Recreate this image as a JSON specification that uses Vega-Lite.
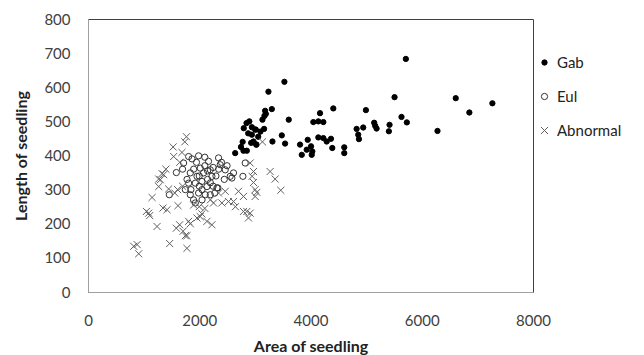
{
  "$schema": "https://vega.github.io/schema/vega-lite/v6.json",
  "autosize": {"type": "none"},
  "padding": {"left": 88, "top": 19, "right": 111, "bottom": 63},
  "width": 445,
  "height": 273,
  "background": "white",
  "config": {
    "font": "Lato",
    "view": {"stroke": "#404040", "strokeWidth": 1},
    "axis": {"grid": false, "ticks": false, "domainColor": "#a0a0a0", "labelColor": "#404040", "labelFontSize": 15, "titleFontSize": 16, "titleFontWeight": "bold", "titleColor": "#222222", "labelFont": "Lato", "titleFont": "Lato"},
    "legend": {"orient": "none", "legendX": 449, "legendY": 36, "rowPadding": 18, "labelFontSize": 15, "labelColor": "#222222", "labelFont": "Lato", "labelOffset": 5, "symbolStrokeWidth": 1}
  },
  "data": {"values": [
    {"a":5714,"l":683,"g":"Gab"},{"a":3531,"l":616,"g":"Gab"},{"a":3244,"l":587,"g":"Gab"},{"a":3305,"l":536,"g":"Gab"},
    {"a":3184,"l":531,"g":"Gab"},{"a":3197,"l":522,"g":"Gab"},{"a":3172,"l":516,"g":"Gab"},{"a":3136,"l":505,"g":"Gab"},
    {"a":3609,"l":505,"g":"Gab"},{"a":4410,"l":538,"g":"Gab"},{"a":4171,"l":524,"g":"Gab"},{"a":4051,"l":498,"g":"Gab"},
    {"a":4141,"l":500,"g":"Gab"},{"a":4231,"l":498,"g":"Gab"},{"a":4996,"l":533,"g":"Gab"},{"a":5511,"l":571,"g":"Gab"},
    {"a":6611,"l":568,"g":"Gab"},{"a":7270,"l":553,"g":"Gab"},{"a":6856,"l":526,"g":"Gab"},{"a":5636,"l":513,"g":"Gab"},
    {"a":5732,"l":497,"g":"Gab"},{"a":6283,"l":472,"g":"Gab"},{"a":5145,"l":496,"g":"Gab"},{"a":5163,"l":487,"g":"Gab"},
    {"a":5188,"l":479,"g":"Gab"},{"a":5421,"l":490,"g":"Gab"},{"a":5409,"l":471,"g":"Gab"},{"a":4829,"l":478,"g":"Gab"},
    {"a":4948,"l":482,"g":"Gab"},{"a":4858,"l":461,"g":"Gab"},{"a":4871,"l":448,"g":"Gab"},{"a":4141,"l":453,"g":"Gab"},
    {"a":4231,"l":451,"g":"Gab"},{"a":4291,"l":441,"g":"Gab"},{"a":4368,"l":449,"g":"Gab"},{"a":4392,"l":422,"g":"Gab"},
    {"a":3950,"l":446,"g":"Gab"},{"a":3812,"l":432,"g":"Gab"},{"a":4010,"l":427,"g":"Gab"},{"a":3932,"l":417,"g":"Gab"},
    {"a":4033,"l":412,"g":"Gab"},{"a":3843,"l":402,"g":"Gab"},{"a":4022,"l":402,"g":"Gab"},{"a":4607,"l":424,"g":"Gab"},
    {"a":4607,"l":407,"g":"Gab"},{"a":3484,"l":459,"g":"Gab"},{"a":3316,"l":441,"g":"Gab"},{"a":3543,"l":435,"g":"Gab"},
    {"a":3017,"l":476,"g":"Gab"},{"a":3166,"l":478,"g":"Gab"},{"a":3029,"l":432,"g":"Gab"},{"a":2946,"l":483,"g":"Gab"},
    {"a":3005,"l":476,"g":"Gab"},{"a":2946,"l":461,"g":"Gab"},{"a":2933,"l":437,"g":"Gab"},{"a":3023,"l":432,"g":"Gab"},
    {"a":2975,"l":441,"g":"Gab"},{"a":2646,"l":407,"g":"Gab"},{"a":2795,"l":414,"g":"Gab"},{"a":2855,"l":414,"g":"Gab"},
    {"a":2800,"l":480,"g":"Gab"},{"a":2850,"l":495,"g":"Gab"},{"a":2900,"l":500,"g":"Gab"},{"a":2780,"l":440,"g":"Gab"},
    {"a":2880,"l":465,"g":"Gab"},{"a":3100,"l":470,"g":"Gab"},{"a":2750,"l":425,"g":"Gab"},{"a":3060,"l":455,"g":"Gab"},
    {"a":1988,"l":399,"g":"Eul"},{"a":1719,"l":378,"g":"Eul"},{"a":1588,"l":350,"g":"Eul"},{"a":1839,"l":349,"g":"Eul"},
    {"a":2018,"l":363,"g":"Eul"},{"a":2167,"l":383,"g":"Eul"},{"a":2347,"l":393,"g":"Eul"},{"a":2377,"l":373,"g":"Eul"},
    {"a":2467,"l":358,"g":"Eul"},{"a":2616,"l":349,"g":"Eul"},{"a":2826,"l":378,"g":"Eul"},{"a":1809,"l":319,"g":"Eul"},
    {"a":1929,"l":319,"g":"Eul"},{"a":2048,"l":324,"g":"Eul"},{"a":2228,"l":339,"g":"Eul"},{"a":2318,"l":305,"g":"Eul"},
    {"a":1988,"l":290,"g":"Eul"},{"a":2108,"l":285,"g":"Eul"},{"a":2198,"l":285,"g":"Eul"},{"a":1839,"l":285,"g":"Eul"},
    {"a":1749,"l":300,"g":"Eul"},{"a":2138,"l":309,"g":"Eul"},{"a":1959,"l":339,"g":"Eul"},{"a":2078,"l":349,"g":"Eul"},
    {"a":2198,"l":358,"g":"Eul"},{"a":2557,"l":339,"g":"Eul"},{"a":1898,"l":270,"g":"Eul"},{"a":1462,"l":285,"g":"Eul"},
    {"a":2785,"l":339,"g":"Eul"},{"a":2336,"l":305,"g":"Eul"},{"a":1929,"l":261,"g":"Eul"},{"a":2587,"l":334,"g":"Eul"},
    {"a":1809,"l":397,"g":"Eul"},{"a":2100,"l":370,"g":"Eul"},{"a":2250,"l":365,"g":"Eul"},{"a":2050,"l":300,"g":"Eul"},
    {"a":1900,"l":360,"g":"Eul"},{"a":2300,"l":340,"g":"Eul"},{"a":2150,"l":330,"g":"Eul"},{"a":2000,"l":310,"g":"Eul"},
    {"a":2400,"l":380,"g":"Eul"},{"a":1780,"l":330,"g":"Eul"},{"a":2250,"l":310,"g":"Eul"},{"a":2100,"l":395,"g":"Eul"},
    {"a":1850,"l":300,"g":"Eul"},{"a":1950,"l":380,"g":"Eul"},{"a":2200,"l":320,"g":"Eul"},{"a":2050,"l":270,"g":"Eul"},
    {"a":2350,"l":360,"g":"Eul"},{"a":2500,"l":370,"g":"Eul"},{"a":1700,"l":360,"g":"Eul"},{"a":2000,"l":340,"g":"Eul"},
    {"a":2150,"l":355,"g":"Eul"},{"a":2280,"l":290,"g":"Eul"},{"a":1870,"l":390,"g":"Eul"},{"a":2450,"l":330,"g":"Eul"},
    {"a":1540,"l":397,"g":"Abnormal"},{"a":1689,"l":409,"g":"Abnormal"},{"a":1331,"l":347,"g":"Abnormal"},{"a":1271,"l":331,"g":"Abnormal"},
    {"a":1271,"l":309,"g":"Abnormal"},{"a":1152,"l":277,"g":"Abnormal"},{"a":1450,"l":302,"g":"Abnormal"},{"a":1611,"l":300,"g":"Abnormal"},
    {"a":1618,"l":253,"g":"Abnormal"},{"a":1050,"l":236,"g":"Abnormal"},{"a":1091,"l":231,"g":"Abnormal"},{"a":1109,"l":224,"g":"Abnormal"},
    {"a":1349,"l":246,"g":"Abnormal"},{"a":1421,"l":241,"g":"Abnormal"},{"a":1241,"l":192,"g":"Abnormal"},{"a":1588,"l":187,"g":"Abnormal"},
    {"a":1647,"l":197,"g":"Abnormal"},{"a":1708,"l":178,"g":"Abnormal"},{"a":1749,"l":165,"g":"Abnormal"},{"a":1779,"l":165,"g":"Abnormal"},
    {"a":1809,"l":207,"g":"Abnormal"},{"a":1839,"l":200,"g":"Abnormal"},{"a":1959,"l":217,"g":"Abnormal"},{"a":2018,"l":221,"g":"Abnormal"},
    {"a":2048,"l":229,"g":"Abnormal"},{"a":2138,"l":207,"g":"Abnormal"},{"a":2228,"l":197,"g":"Abnormal"},{"a":822,"l":134,"g":"Abnormal"},
    {"a":883,"l":139,"g":"Abnormal"},{"a":911,"l":112,"g":"Abnormal"},{"a":1468,"l":142,"g":"Abnormal"},{"a":1779,"l":128,"g":"Abnormal"},
    {"a":2975,"l":353,"g":"Abnormal"},{"a":2975,"l":321,"g":"Abnormal"},{"a":3005,"l":300,"g":"Abnormal"},{"a":3035,"l":292,"g":"Abnormal"},
    {"a":3005,"l":280,"g":"Abnormal"},{"a":3274,"l":353,"g":"Abnormal"},{"a":3364,"l":331,"g":"Abnormal"},{"a":3466,"l":298,"g":"Abnormal"},
    {"a":2795,"l":236,"g":"Abnormal"},{"a":2855,"l":236,"g":"Abnormal"},{"a":2885,"l":217,"g":"Abnormal"},{"a":2616,"l":265,"g":"Abnormal"},
    {"a":2526,"l":265,"g":"Abnormal"},{"a":2407,"l":261,"g":"Abnormal"},{"a":2257,"l":261,"g":"Abnormal"},{"a":2347,"l":290,"g":"Abnormal"},
    {"a":2467,"l":295,"g":"Abnormal"},{"a":2706,"l":295,"g":"Abnormal"},{"a":2795,"l":280,"g":"Abnormal"},{"a":3136,"l":440,"g":"Abnormal"},
    {"a":2915,"l":378,"g":"Abnormal"},{"a":2915,"l":231,"g":"Abnormal"},{"a":1301,"l":329,"g":"Abnormal"},{"a":1360,"l":344,"g":"Abnormal"},
    {"a":1770,"l":455,"g":"Abnormal"},{"a":1740,"l":440,"g":"Abnormal"},{"a":1530,"l":425,"g":"Abnormal"},{"a":1700,"l":310,"g":"Abnormal"},
    {"a":1900,"l":255,"g":"Abnormal"},{"a":2100,"l":245,"g":"Abnormal"},{"a":2650,"l":250,"g":"Abnormal"},{"a":2950,"l":339,"g":"Abnormal"},
    {"a":1560,"l":290,"g":"Abnormal"},{"a":2000,"l":250,"g":"Abnormal"},{"a":2200,"l":270,"g":"Abnormal"},{"a":1400,"l":360,"g":"Abnormal"},
    {"a":1650,"l":380,"g":"Abnormal"}
  ]},
  "mark": {"type": "point", "strokeWidth": 1, "opacity": 1},
  "encoding": {
    "x": {"field": "a", "type": "quantitative", "title": "Area of seedling",
          "scale": {"domain": [0, 8000], "nice": false, "zero": true},
          "axis": {"values": [0, 2000, 4000, 6000, 8000], "format": "d", "labelPadding": 21, "titlePadding": 10, "labelFlush": false}},
    "y": {"field": "l", "type": "quantitative", "title": "Length of seedling",
          "scale": {"domain": [0, 800], "nice": false},
          "axis": {"values": [0, 100, 200, 300, 400, 500, 600, 700, 800], "format": "d", "labelPadding": 18, "titlePadding": 14, "labelFlush": false}},
    "shape": {"field": "g", "type": "nominal",
              "scale": {"domain": ["Gab", "Eul", "Abnormal"], "range": ["circle", "circle", "M-1,-1L1,1M1,-1L-1,1"]},
              "legend": {"title": null}},
    "fill": {"field": "g", "type": "nominal",
             "scale": {"domain": ["Gab", "Eul", "Abnormal"], "range": ["#000000", "transparent", "transparent"]},
             "legend": {"title": null}},
    "stroke": {"field": "g", "type": "nominal",
               "scale": {"domain": ["Gab", "Eul", "Abnormal"], "range": ["#000000", "#333333", "#606060"]},
               "legend": {"title": null}},
    "size": {"field": "g", "type": "nominal",
             "scale": {"domain": ["Gab", "Eul", "Abnormal"], "range": [28, 50, 36]},
             "legend": {"title": null}}
  }
}
